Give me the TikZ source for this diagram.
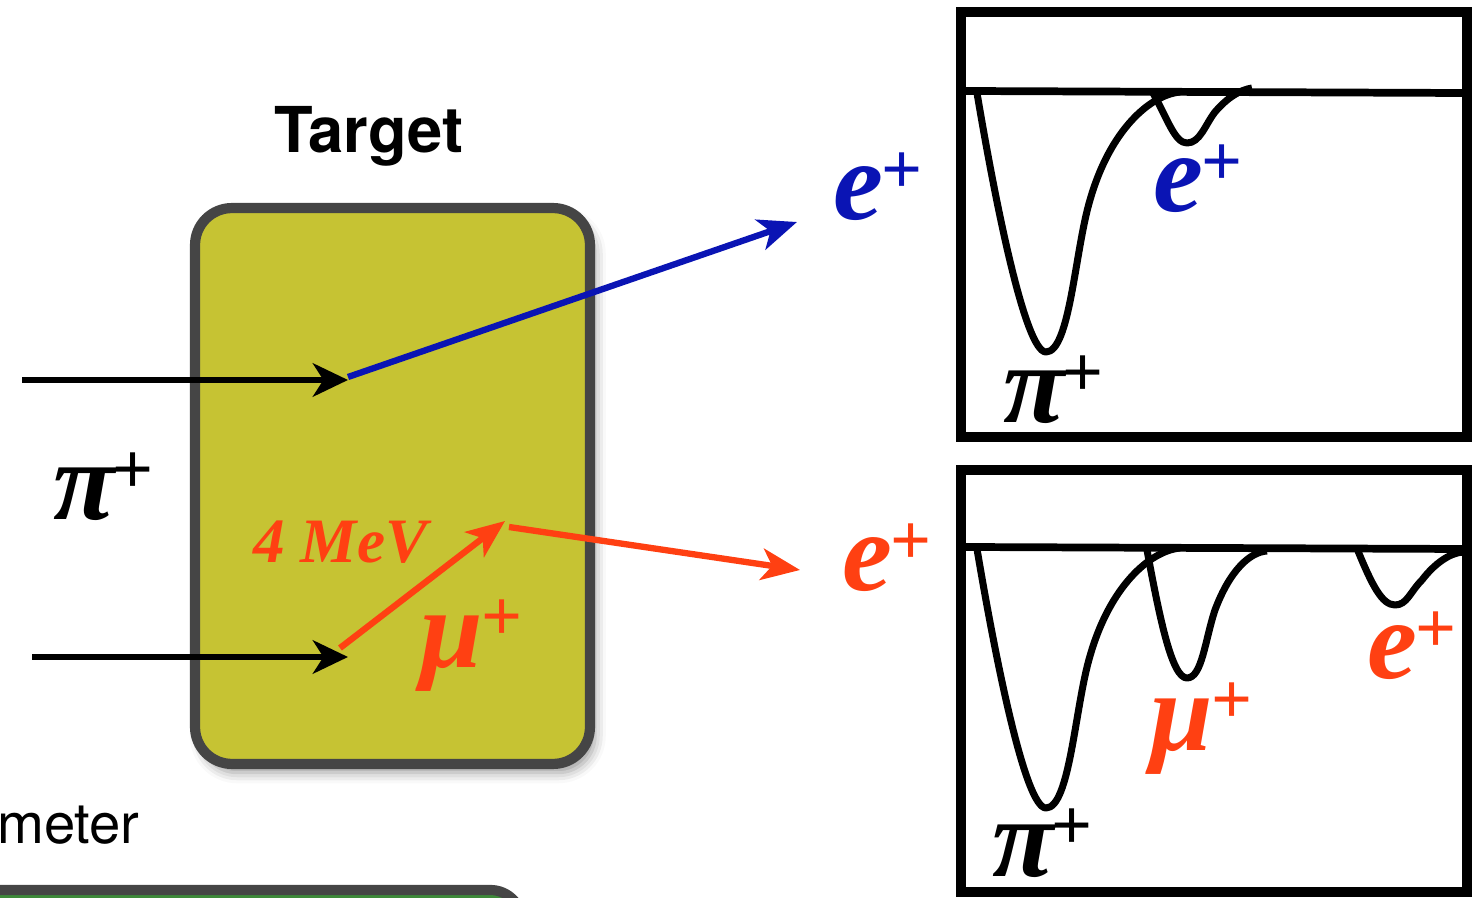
\documentclass[tikz,border=0pt]{standalone}
\usepackage{fontspec}
\setmainfont{Liberation Serif}
\newfontfamily\helv{TeX Gyre Heros}
\usepackage{xcolor}
\usetikzlibrary{arrows.meta,positioning,shadows.blur}

\definecolor{targetfill}{HTML}{C6C333}
\definecolor{targetrim}{HTML}{454545}
\definecolor{eblue}{HTML}{0A14B4}
\definecolor{eorange}{HTML}{FF4012}
\definecolor{calgreen}{HTML}{3E8A3A}

% particle symbol with an upright superscript plus
\newcommand{\ptl}[1]{{\bfseries\itshape #1}\kern-1pt\raisebox{15pt}{\fontsize{41pt}{41pt}\selectfont\bfseries +}}

\begin{document}
\begin{tikzpicture}[x=0.02cm, y=-0.02cm,
  target/.style={draw=targetrim, line width=5.8pt, fill=targetfill,
    rounded corners=21pt, minimum width=7.9cm, minimum height=11.12cm,
    blur shadow={shadow xshift=3pt, shadow yshift=-5pt, shadow blur radius=6pt}},
  calbar/.style={draw=targetrim, line width=5.8pt, fill=calgreen, rounded corners=18pt},
  ptlabel/.style={anchor=base west, inner sep=0pt, font=\fontsize{64pt}{64pt}\selectfont},
  beam/.style={line width=3.3pt, -{Stealth[length=20pt, width=19pt, inset=6pt]}},
  track/.style={line width=3.6pt, -{Stealth[length=22pt, width=18pt, inset=6pt]}},
  panelbox/.style={line width=5.7pt},
  pedestal/.style={line width=4.4pt},
  pulse/.style={line width=4pt, line join=round}]
  \useasboundingbox (0,0) rectangle (1472,898);

  % target
  \node[target] (tgt) at (392.5,486) {};
  \node[anchor=base, inner sep=0pt, font=\helv\bfseries\fontsize{36pt}{36pt}\selectfont] (tgtlab) at (369,153) {Target};

  % calorimeter (cut off at the page edge)
  \node[anchor=base west, inner sep=0pt, font=\helv\fontsize{32pt}{32pt}\selectfont] (callab) at (-3,843) {meter};
  \draw[calbar] (-40,890) rectangle (522,1000);

  % beam and decays
  \coordinate (pi1) at (22,380);
  \coordinate (stop1) at (348,380);
  \coordinate (dec1) at (348,377);
  \coordinate (eout1) at (797,222);
  \coordinate (pi2) at (32,657);
  \coordinate (stop2) at (348,657);
  \coordinate (mustart) at (340,648);
  \coordinate (mustop) at (505,521);
  \coordinate (dec2) at (509,527);
  \coordinate (eout2) at (800,570);

  \draw[track, eblue] (dec1) -- (eout1);
  \draw[beam] (pi1) -- (stop1);
  \draw[beam] (pi2) -- (stop2);
  \draw[track, eorange] (mustart) -- (mustop);
  \draw[track, eorange] (dec2) -- (eout2);

  \node[ptlabel] (pilab) at (53,520) {\ptl{π}};
  \node[ptlabel, text=eblue] (eblab) at (833,220) {\ptl{e}};
  \node[ptlabel, text=eorange] (eolab) at (842,591) {\ptl{e}};
  \node[ptlabel, text=eorange] (mulab) at (420,667) {\ptl{μ}};
  \node[anchor=base west, inner sep=0pt, text=eorange,
    font=\fontsize{36pt}{36pt}\selectfont\bfseries\itshape] (mev) at (253,563) {4 MeV};

  % waveform: pi -> e
  \draw[panelbox] (961,12) rectangle (1467,437);
  \draw[pedestal] (966,91) -- (1463,93);
  \draw[pulse] (977,93) .. controls (995,200) and (1025,352) .. (1046,352)
    .. controls (1070,352) and (1075,250) .. (1090,200)
    .. controls (1110,130) and (1150,95) .. (1180,92);
  \draw[pulse] (1153,93) .. controls (1168,120) and (1175,143) .. (1187,143)
    .. controls (1200,143) and (1205,125) .. (1215,112)
    .. controls (1228,97) and (1240,90) .. (1252,88);
  \node[ptlabel] (pitop) at (1003,423) {\ptl{π}};
  \node[ptlabel, text=eblue] (etop) at (1153,212) {\ptl{e}};

  % waveform: pi -> mu -> e
  \draw[panelbox] (961,470) rectangle (1467,892);
  \draw[pedestal] (966,547) -- (1463,549);
  \draw[pulse] (977,549) .. controls (995,656) and (1025,808) .. (1046,808)
    .. controls (1070,808) and (1075,706) .. (1090,656)
    .. controls (1110,586) and (1150,551) .. (1180,548);
  \draw[pulse] (1147,550) .. controls (1160,620) and (1172,678) .. (1187,678)
    .. controls (1202,678) and (1205,640) .. (1215,610)
    .. controls (1230,570) and (1250,552) .. (1267,551);
  \draw[pulse] (1358,551) .. controls (1372,585) and (1382,605) .. (1395,605)
    .. controls (1407,605) and (1410,592) .. (1422,580)
    .. controls (1435,563) and (1450,553) .. (1463,552);
  \node[ptlabel] (pibot) at (992,876) {\ptl{π}};
  \node[ptlabel, text=eorange] (mubot) at (1150,750) {\ptl{μ}};
  \node[ptlabel, text=eorange] (ebot) at (1367,679) {\ptl{e}};
\end{tikzpicture}
\end{document}
